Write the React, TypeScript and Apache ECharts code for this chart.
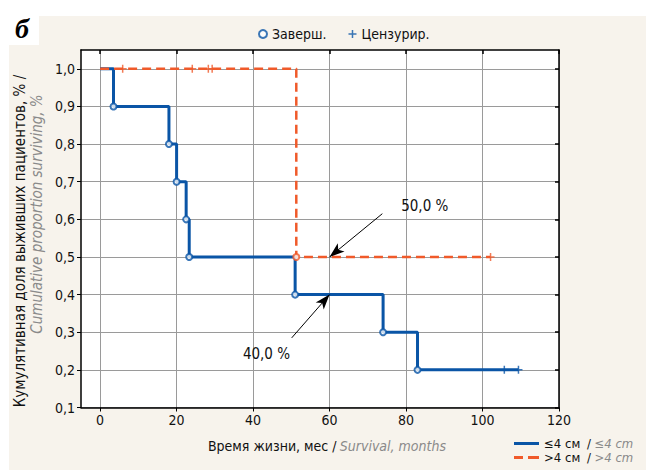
import { useEffect, useRef } from 'react';
import * as echarts from 'echarts';

// ---------- data ----------
const xTicks = [0, 20, 40, 60, 80, 100, 120];
const yTicks = [0.1, 0.2, 0.3, 0.4, 0.5, 0.6, 0.7, 0.8, 0.9, 1.0];

// group "≤4 см" (step curve)
const smallTimes = [0, 3.5, 18, 20, 22.5, 23.3, 51, 74, 83, 109.4];
const smallSurv = [1.0, 0.9, 0.8, 0.7, 0.6, 0.5, 0.4, 0.3, 0.2, 0.2];
const smallEventTimes = [3.5, 18, 20, 22.5, 23.3, 51, 74, 83];
const smallEventSurv = [0.9, 0.8, 0.7, 0.6, 0.5, 0.4, 0.3, 0.2];
const smallCensTimes = [105.7, 109.4];
const smallCensSurv = [0.2, 0.2];

// group ">4 см"
const largeTimes = [0, 51.3, 102.1];
const largeSurv = [1.0, 0.5, 0.5];
const largeEventTimes = [51.3];
const largeEventSurv = [0.5];
const largeCensTimes = [5.9, 24.1, 28.3, 29.3, 102.1];
const largeCensSurv = [1.0, 1.0, 1.0, 1.0, 0.5];

// annotations
const annotFrom = [[73.8, 0.615], [50.1, 0.285]];
const annotTo = [[60, 0.5], [60, 0.4]];
const annotText = ['50,0 %', '40,0 %'];
const annotTextPos = [[84.9, 0.635], [43.5, 0.242]];

const seriesNames = ['≤4 см', '>4 см'];
const seriesNamesEn = ['≤4 cm', '>4 cm'];

// ---------- style ----------
const BLUE = '#0a55a6';
const ORANGE = '#f05a2a';
const BEIGE = '#f7f3ec';
const GRAY = '#8a8a8a';
const FONT = "'Liberation Sans Narrow', 'DejaVu Sans Condensed', 'Roboto Condensed', 'Noto Sans', sans-serif";
const PLUS = 'path://M6.5,0H9.5V6.5H16V9.5H9.5V16H6.5V9.5H0V6.5H6.5Z';
const ICON_SOLID = 'path://M0,0H25V3H0Z';
const ICON_DASHED = 'path://M0,0H9V3H0Z M14,0H25V3H14Z';

const zip = (a: number[], b: number[]) => a.map((v, i) => [v, b[i]]);

export default function App() {
  const ref = useRef<HTMLDivElement>(null);
  useEffect(() => {
    const chart = echarts.init(ref.current!, null, { renderer: 'svg' });
    const baseX = { type: 'value', min: -5, max: 120, interval: 20 };
    const baseY = { type: 'value', min: 0.1, max: 1.05, interval: 0.1 };
    const option: any = {
      animation: false,
      textStyle: { fontFamily: FONT },
      grid: { left: 81, right: 87, top: 50, bottom: 62.5, show: true, backgroundColor: '#fff', borderWidth: 0 },
      xAxis: [
        {
          ...baseX, position: 'bottom',
          axisLine: { show: true, onZero: false, lineStyle: { color: '#000', width: 1.5 } },
          axisTick: { show: true, customValues: xTicks, length: 4, lineStyle: { color: '#000', width: 1 } },
          axisLabel: { customValues: xTicks, formatter: (v: number) => String(v), fontSize: 14, color: '#111', margin: 5, fontFamily: FONT },
          splitLine: { show: true, lineStyle: { color: '#9a9a9a', width: 1 } },
        },
        {
          ...baseX, position: 'top',
          axisLine: { show: true, onZero: false, lineStyle: { color: '#000', width: 1.5 } },
          axisTick: { show: true, inside: true, customValues: xTicks, length: 4, lineStyle: { color: '#000', width: 1.5 } },
          axisLabel: { show: false },
          splitLine: { show: false },
        },
      ],
      yAxis: [
        {
          ...baseY, position: 'left',
          axisLine: { show: true, onZero: false, lineStyle: { color: '#000', width: 1.5 } },
          axisTick: { show: true, customValues: yTicks, length: 4, lineStyle: { color: '#000', width: 1 } },
          axisLabel: { customValues: yTicks, formatter: (v: number) => v.toFixed(1).replace('.', ','), fontSize: 14, color: '#111', margin: 6, fontFamily: FONT },
          splitLine: { show: true, lineStyle: { color: '#9a9a9a', width: 1 } },
        },
        {
          ...baseY, position: 'right',
          axisLine: { show: true, onZero: false, lineStyle: { color: '#000', width: 1.5 } },
          axisTick: { show: true, inside: true, customValues: yTicks, length: 4, lineStyle: { color: '#000', width: 1.5 } },
          axisLabel: { show: false },
          splitLine: { show: false },
        },
      ],
      legend: [
        {
          data: ['Заверш.', 'Цензурир.'],
          left: 253, top: 22, itemGap: 22, itemWidth: 8, itemHeight: 8,
          textStyle: { fontSize: 14, color: '#111', fontFamily: FONT },
          selectedMode: false,
        },
        {
          data: [
            { name: seriesNames[0], icon: ICON_SOLID, itemStyle: { color: BLUE } },
            { name: seriesNames[1], icon: ICON_DASHED, itemStyle: { color: ORANGE } },
          ],
          orient: 'vertical', left: 514, top: 437, width: 132, height: 40, padding: 0,
          itemGap: 1, itemWidth: 25, itemHeight: 16,
          selectedMode: false,
          formatter: (name: string) => `{a|${name}}  {a|/} {b|${seriesNamesEn[seriesNames.indexOf(name)]}}`,
          textStyle: {
            fontFamily: FONT,
            rich: {
              a: { fontSize: 13, lineHeight: 16, color: '#111', fontFamily: FONT },
              b: { fontSize: 13, lineHeight: 16, color: GRAY, fontStyle: 'italic', fontFamily: FONT },
            },
          },
        },
      ],
      series: [
        {
          name: seriesNames[0], type: 'line', step: 'end', symbol: 'none', z: 2,
          data: zip(smallTimes, smallSurv),
          lineStyle: { color: BLUE, width: 3 }, itemStyle: { color: BLUE },
        },
        {
          name: seriesNames[1], type: 'line', step: 'end', symbol: 'none', z: 3,
          data: zip(largeTimes, largeSurv),
          lineStyle: { color: ORANGE, width: 2.5, type: [9, 5] }, itemStyle: { color: ORANGE },
          markLine: {
            silent: true, symbol: ['none', 'arrow'], symbolSize: [8, 15],
            lineStyle: { color: '#000', width: 1, type: 'solid' },
            label: { show: false },
            data: annotFrom.map((f, i) => [{ coord: f }, { coord: annotTo[i] }]),
          },
          markPoint: {
            silent: true, symbol: 'rect', symbolSize: 1,
            itemStyle: { color: 'rgba(0,0,0,0)' },
            label: { show: true, position: 'inside', color: '#111', fontSize: 15, fontFamily: FONT, formatter: (p: any) => p.name },
            data: annotTextPos.map((c, i) => ({ name: annotText[i], coord: c })),
          },
        },
        {
          name: 'Заверш.', type: 'scatter', symbol: 'emptyCircle', symbolSize: 6, z: 5,
          itemStyle: { color: BLUE, borderWidth: 1.5 },
          data: [
            ...zip(smallEventTimes, smallEventSurv).map(v => ({ value: v, itemStyle: { color: BLUE } })),
            ...zip(largeEventTimes, largeEventSurv).map(v => ({ value: v, itemStyle: { color: ORANGE } })),
          ],
        },
        {
          name: 'Цензурир.', type: 'scatter', symbol: PLUS, symbolSize: 8, z: 5,
          itemStyle: { color: BLUE },
          data: [
            ...zip(smallCensTimes, smallCensSurv).map(v => ({ value: v, itemStyle: { color: BLUE } })),
            ...zip(largeCensTimes, largeCensSurv).map(v => ({ value: v, itemStyle: { color: ORANGE } })),
          ],
        },
      ],
      graphic: [
        {
          type: 'text', x: 15, y: 14,
          style: { text: 'б', font: "italic bold 28px 'Liberation Serif', 'DejaVu Serif', serif", fill: '#000' },
        },
        {
          type: 'text', x: 20, y: 241, rotation: Math.PI / 2,
          style: {
            text: 'Кумулятивная доля выживших пациентов, % /', font: `15px ${FONT}`, fill: '#111',
            align: 'center', verticalAlign: 'middle', textAlign: 'center', textVerticalAlign: 'middle',
          },
        },
        {
          type: 'text', x: 37, y: 214, rotation: Math.PI / 2,
          style: {
            text: 'Cumulative proportion surviving, %', font: `italic 15px ${FONT}`, fill: GRAY,
            align: 'center', verticalAlign: 'middle', textAlign: 'center', textVerticalAlign: 'middle',
          },
        },
        {
          type: 'text', x: 327, y: 446,
          style: {
            text: '{a|Время жизни, мес /} {b|Survival, months}',
            align: 'center', verticalAlign: 'middle', textAlign: 'center', textVerticalAlign: 'middle',
            rich: {
              a: { fontSize: 14, fill: '#111', fontFamily: FONT },
              b: { fontSize: 14, fill: GRAY, fontStyle: 'italic', fontFamily: FONT },
            },
          },
        },
      ],
    };
    chart.setOption(option);
    return () => chart.dispose();
  }, []);
  return (
    <div style={{ position: 'fixed', left: 0, top: 0, width: 646, height: 470, background: '#fff', overflow: 'hidden' }}>
      <div style={{ position: 'absolute', left: 39, top: 16, right: 0, bottom: 0, background: BEIGE }} />
      <div style={{ position: 'absolute', left: 9, top: 45, right: 0, bottom: 0, background: BEIGE }} />
      <div ref={ref} style={{ position: 'absolute', left: 0, top: 0, width: 646, height: 470 }} />
    </div>
  );
}
